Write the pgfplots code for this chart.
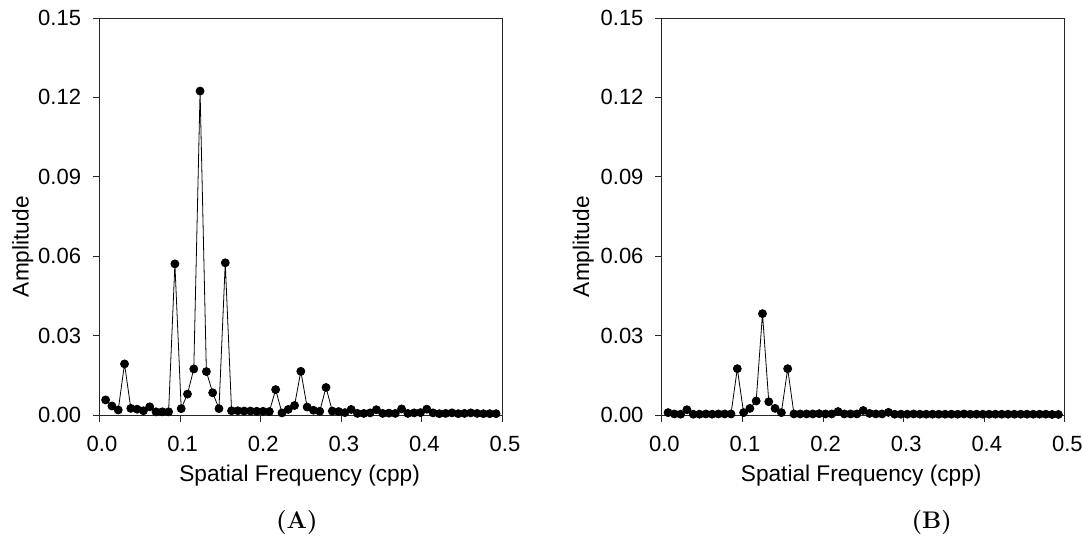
\documentclass[border=0pt]{standalone}
\usepackage{fontspec}
\usepackage{pgfplots}
\usepackage{pgfplotstable}
\pgfplotsset{compat=1.18}
\newfontfamily\hv{Liberation Sans}
\pgfplotstableread{
k a
1 0.0057
2 0.0034
3 0.0019
4 0.0193
5 0.0025
6 0.0022
7 0.0016
8 0.0031
9 0.0012
10 0.0012
11 0.0012
12 0.0571
13 0.0024
14 0.0079
15 0.0174
16 0.1224
17 0.0164
18 0.0084
19 0.0024
20 0.0575
21 0.0016
22 0.0016
23 0.0015
24 0.0015
25 0.0014
26 0.0014
27 0.0013
28 0.0096
29 0.0008
30 0.0021
31 0.0036
32 0.0165
33 0.0030
34 0.0018
35 0.0014
36 0.0104
37 0.0015
38 0.0013
39 0.0009
40 0.0021
41 0.0006
42 0.0006
43 0.0008
44 0.0020
45 0.0006
46 0.0007
47 0.0006
48 0.0023
49 0.0006
50 0.0008
51 0.0009
52 0.0022
53 0.0008
54 0.0005
55 0.0006
56 0.0008
57 0.0005
58 0.0006
59 0.0008
60 0.0006
61 0.0005
62 0.0005
63 0.0005
}\dataA
\pgfplotstableread{
k a
1 0.0009
2 0.0004
3 0.0003
4 0.0020
5 0.0003
6 0.0003
7 0.0004
8 0.0003
9 0.0004
10 0.0004
11 0.0004
12 0.0175
13 0.0009
14 0.0025
15 0.0053
16 0.0383
17 0.0050
18 0.0025
19 0.0009
20 0.0175
21 0.0004
22 0.0004
23 0.0004
24 0.0004
25 0.0005
26 0.0004
27 0.0004
28 0.0013
29 0.0004
30 0.0004
31 0.0004
32 0.0017
33 0.0006
34 0.0004
35 0.0004
36 0.0010
37 0.0003
38 0.0003
39 0.0003
40 0.0004
41 0.0003
42 0.0003
43 0.0003
44 0.0003
45 0.0003
46 0.0003
47 0.0003
48 0.0004
49 0.0003
50 0.0003
51 0.0003
52 0.0003
53 0.0003
54 0.0003
55 0.0003
56 0.0003
57 0.0003
58 0.0003
59 0.0003
60 0.0003
61 0.0003
62 0.0002
63 0.0002
}\dataB
\pgfplotsset{
  panel/.style={
    scale only axis,
    width=302.25pt, height=297.75pt,
    xmin=0, xmax=0.5, ymin=0, ymax=0.15,
    xtick={0,0.1,0.2,0.3,0.4,0.5},
    ytick={0,0.03,0.06,0.09,0.12,0.15},
    tick align=outside, major tick length=5pt,
    xtick pos=bottom, ytick pos=left,
    axis line style={line width=0.6pt, black!85},
    every tick/.style={line width=0.6pt, black!85},
    /pgf/number format/assume math mode=true,
    tick label style={font=\hv\fontsize{16.5}{19}\selectfont, inner sep=0pt},
    xticklabel style={/pgf/number format/.cd, fixed, fixed zerofill, precision=1, /tikz/.cd, anchor=north, yshift=-10.75pt, xshift=2pt},
    yticklabel style={/pgf/number format/.cd, fixed, fixed zerofill, precision=2, /tikz/.cd, anchor=east, xshift=-8.5pt},
    scaled ticks=false,
    xlabel={Spatial Frequency (cpp)},
    ylabel={Amplitude},
    label style={font=\hv\fontsize{17}{20}\selectfont},
    xlabel style={at={(axis description cs:0.497,-0.153)}, anchor=center},
    ylabel style={at={(axis description cs:-0.19,0.424)}, anchor=center},
    clip=false,
  },
  dots/.style={black, line width=0.6pt, mark=*, mark size=3pt, mark options={solid, fill=black}},
}
\begin{document}
\begin{tikzpicture}
\useasboundingbox (-74.5pt,-105.75pt) rectangle (737pt,311.25pt);
\begin{axis}[panel]
\addplot[dots] table[x expr=\thisrow{k}/128, y=a] {\dataA};
\node[font=\bfseries\fontsize{18}{20}\selectfont] at (axis description cs:0.49,-0.272) {(A)};
\end{axis}
\begin{axis}[panel, at={(421.8pt,0pt)},
  xlabel style={at={(axis description cs:0.495,-0.153)}},
  ylabel style={at={(axis description cs:-0.195,0.424)}}]
\addplot[dots] table[x expr=\thisrow{k}/128, y=a] {\dataB};
\node[font=\bfseries\fontsize{18}{20}\selectfont] at (axis description cs:0.67,-0.272) {(B)};
\end{axis}
\end{tikzpicture}
\end{document}
